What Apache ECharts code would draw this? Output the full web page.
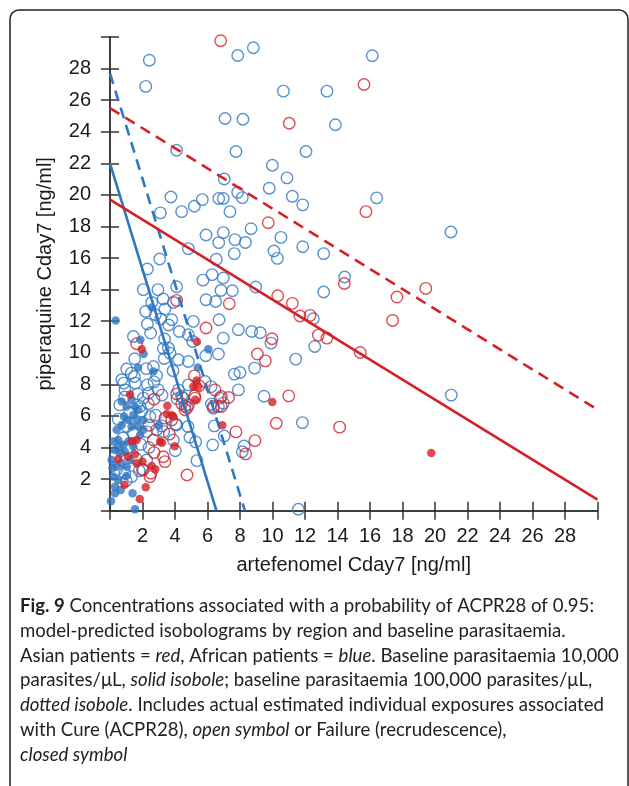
<!DOCTYPE html>
<html>
<head>
<meta charset="utf-8">
<script src="https://cdn.jsdelivr.net/npm/echarts@6/dist/echarts.min.js"></script>
<style>html,body{margin:0;padding:0;background:#fff;}#c{width:629px;height:786px;}</style>
</head>
<body>
<div id="c"></div>
<script>
// ---- data (artefenomel Cday7, piperaquine Cday7) ----
const xTicks = [2,4,6,8,10,12,14,16,18,20,22,24,26,28];
const yTicks = [2,4,6,8,10,12,14,16,18,20,22,24,26,28];

const africanCure = [
[2.42,28.53],[2.2,26.87],[4.1,22.83],[7.86,28.83],[8.82,29.32],[10.67,26.57],[7.08,24.84],[8.18,24.79],[7.75,22.75],[12.06,22.75],[9.99,21.88],[10.89,21.08],[7.03,21.01],[9.8,20.42],[11.22,19.91],[11.86,19.37],[7.86,20.16],[8.14,19.83],[6.69,19.77],[6.97,19.77],[5.68,19.7],[5.19,19.28],[3.75,19.87],[4.41,18.94],[3.1,18.86],[7.38,18.94],[8.68,17.86],[10.52,17.31],[5.91,17.46],[6.97,17.61],[6.69,16.98],[7.69,17.17],[8.33,16.99],[4.82,16.6],[11.86,16.72],[10.09,16.45],[10.3,15.98],[6.54,15.92],[7.65,16.28],[3.06,15.94],[2.3,15.31],
[16.14,28.81],[13.35,26.57],[13.87,24.44],[16.41,19.81],[20.98,17.65],[13.15,16.28],[14.44,14.8],[13.15,13.85],[12.51,12.16],[12.6,10.4],[11.43,9.6],[21.0,7.32],[11.84,5.58],[11.59,0.09],
[8.97,14.17],[8.72,11.35],[9.25,11.27],[9.91,10.61],[8.9,9.03],[9.48,7.25],
[5.72,14.6],[6.28,14.95],[6.97,14.74],[4.1,14.18],[2.05,14.0],[2.95,14.0],[6.83,13.95],[7.53,13.93],
[3.28,13.41],[2.57,13.19],[3.9,13.19],[5.91,13.36],[6.5,13.25],[2.2,12.62],[3.38,12.77],[2.79,12.41],[2.3,11.82],[3.12,12.14],[3.8,12.09],[3.61,11.76],[2.5,11.25],[4.27,11.35],[4.82,11.14],[5.13,11.99],[6.71,12.09],[7.9,11.46],[6.97,10.93],[5.09,10.72],[3.36,10.87],[1.44,11.03],[3.28,10.27],[3.59,10.3],[3.69,9.98],[3.34,9.64],[4.21,9.56],[4.82,9.45],[5.89,9.81],[6.67,9.92],[1.52,9.62],[2.24,9.0],[1.03,8.97],[2.67,9.13],[3.88,8.86],[2.87,8.56],[1.31,8.71],[0.72,8.29],[0.84,8.08],[1.56,8.08],[0.92,7.65],[2.3,7.97],[2.71,8.16],[2.97,7.65],[2.36,7.44],[3.2,7.32],[4.12,7.1],[4.49,7.13],[4.84,6.72],[4.62,6.6],[2.36,6.77],[1.85,6.6],[1.95,6.28],[2.46,5.96],[2.81,6.05],[3.18,5.37],[2.87,5.12],[2.26,5.01],[4.04,5.48],[4.8,5.33],[3.3,5.01],[3.9,4.48],[4.02,3.8],[4.92,4.65],[5.27,4.36],[5.35,3.17],[4.1,5.43],
[7.65,8.65],[8.0,8.75],[7.9,7.65],[5.85,8.18],[6.22,7.86],[4.82,7.97],[4.21,7.65],[4.41,7.23],[6.77,7.13],[6.24,6.75],[6.36,6.49],[6.67,6.6],[6.97,6.81],[6.42,5.37],[6.32,4.17],[7.03,4.73],[8.14,3.73],[8.25,4.1],
[0.31,3.42],[1.03,5.33],[1.44,4.91],[0.92,2.37],[1.33,2.16],[2.05,2.58],[2.26,3.21],[1.8,2.52],[2.05,7.13],[0.6,6.7],[1.2,6.2],[0.5,5.8],[1.1,4.0],[1.6,3.3],[0.8,4.6],[1.9,4.2],[2.4,4.0],[0.4,2.6],[1.0,1.9],[1.5,8.5],[1.7,7.4],[0.9,7.2]
];

const africanFailure = [
[0.35,12.05],[2.57,12.87],[1.87,10.83],[2.07,9.92],[6.05,10.23],[1.72,9.07],[2.67,8.81],[5.4,9.07],[1.39,1.1],[1.54,0.09],[0.06,0.6],
[0.72,6.91],[1.03,6.6],[1.33,7.02],[1.54,6.6],[1.44,6.07],[1.74,6.39],[0.86,5.96],[1.13,5.75],[0.72,5.43],[0.41,5.12],[1.33,5.33],[1.74,5.33],[2.05,5.12],[0.51,4.48],[0.82,4.17],[1.13,4.38],[1.44,4.06],[0.31,3.85],[0.62,3.64],[0.92,3.74],[0.41,2.79],[0.72,3.0],[0.2,2.16],[0.51,1.95],[0.31,1.52],[0.66,1.31],[0.1,3.21],[1.64,5.75],[2.05,5.75],[1.85,4.8],[0.31,1.1],[1.03,2.79],[0.2,4.38],[1.23,3.21],[3.0,5.4],[1.0,2.2],[0.15,2.7],[0.5,4.0]
];

const asianCure = [
[6.81,29.76],[11.03,24.54],[9.74,18.24],[15.63,26.99],[15.75,18.94],[14.42,14.39],[19.43,14.08],[17.66,13.53],[17.39,12.05],[12.31,12.37],[11.69,12.33],[12.82,11.12],[13.35,10.93],[15.4,10.02],[14.13,5.29],[10.32,13.61],[11.22,13.13],[9.97,10.89],[9.07,9.92],[9.56,9.49],[11.0,7.27],[10.23,5.54],[8.92,4.44],[7.34,13.11],[4.1,13.32],[5.91,11.57],[1.64,10.57],[4.1,7.4],[4.41,6.77],[4.76,6.53],[4.62,6.39],[2.71,7.06],[3.38,5.86],[3.8,5.75],[2.4,5.41],[3.65,4.85],[4.74,2.26],[2.67,4.48],[2.71,3.68],[3.28,3.42],[3.38,3.11],[2.52,2.37],[2.46,2.16],[6.36,6.6],[6.85,6.6],[6.46,7.65],[6.85,7.23],[7.3,7.17],[5.19,8.54],[5.48,7.91],[5.21,7.27],[7.75,4.99],[8.35,3.6],[5.23,7.13],[2.0,2.6]
];

const asianFailure = [
[19.77,3.66],[9.99,6.89],[5.35,10.7],[1.95,10.23],[1.23,7.36],[3.53,6.64],[3.49,6.13],[3.8,6.05],[3.9,5.96],[3.98,4.08],[3.08,4.38],[3.2,4.31],[2.57,2.83],[2.79,2.62],[1.99,3.11],[1.64,3.0],[1.54,3.58],[1.09,3.42],[0.51,3.28],[1.64,4.48],[2.2,1.48],[1.83,0.74],[0.9,1.65],[5.13,7.86],[5.33,8.24],[5.25,7.02],[6.91,5.41],[5.44,7.86],[1.35,4.4]
];

// isoboles: endpoints [x, y]
const africanSolid  = [[0,22.0],[6.55,0]];
const africanDotted = [[0,27.7],[8.3,0]];
const asianSolid    = [[0,19.7],[30,0.7]];
const asianDotted   = [[0,25.5],[30,6.4]];

const captionLines = [
  '{b|Fig. 9} Concentrations associated with a probability of ACPR28 of 0.95:',
  'model-predicted isobolograms by region and baseline parasitaemia.',
  'Asian patients = {i|red}, African patients = {i|blue}. Baseline parasitaemia 10,000',
  'parasites/\u03bcL, {i|solid isobole}; baseline parasitaemia 100,000 parasites/\u03bcL,',
  '{i|dotted isobole}. Includes actual estimated individual exposures associated',
  'with Cure (ACPR28), {i|open symbol} or Failure (recrudescence),',
  '{i|closed symbol}'
];

// ---- chart ----
const RED = '#d42126';
const BLUE = '#2f77c0';
const AX = '#333';
const chart = echarts.init(document.getElementById('c'), null, {renderer:'canvas'});

const tickSet = new Set(xTicks);
const ytickSet = new Set(yTicks);
const axisCommon = {
  type: 'value', min: 0, max: 30, interval: 2,
  axisLine: {show: true, lineStyle: {color: AX, width: 1.5}},
  axisTick: {show: true, length: 9, inside: false, lineStyle: {color: AX, width: 1.5}},
  splitLine: {show: false}
};
const labelFont = {fontFamily: 'Liberation Sans', fontSize: 20, color: '#1a1a1a'};

const openSym = (color) => ({
  type: 'scatter', symbol: 'circle', symbolSize: 11.5,
  itemStyle: {color: 'rgba(255,255,255,0)', borderColor: color, borderWidth: 1.4},
  z: 2
});
const filledSym = (color) => ({
  type: 'scatter', symbol: 'circle', symbolSize: 8.5,
  itemStyle: {color: color, borderWidth: 0},
  z: 3
});
const lineSer = (data, color, dashed) => ({
  type: 'line', data: data, showSymbol: false, symbol: 'none',
  lineStyle: {color: color, width: 2.6, type: dashed ? [11, 7] : 'solid'},
  z: 4, clip: true
});

const CAP = 18.6;
const graphics = [{
  type: 'rect', silent: true,
  shape: {x: 10, y: 10, width: 618, height: 790, r: 9},
  style: {fill: null, stroke: '#222', lineWidth: 1.5},
  z: -1
}];
captionLines.forEach((t, i) => {
  graphics.push({
    type: 'text', x: 20, y: 606 + i * 24.8,
    style: {
      text: t, fill: '#222',
      font: CAP + 'px Lato',
      verticalAlign: 'middle',
      rich: {
        b: {fontWeight: 'bold', fontFamily: 'Lato', fontSize: CAP, fill: '#222'},
        i: {fontStyle: 'italic', fontFamily: 'Lato', fontSize: CAP, fill: '#222'}
      }
    }
  });
});

chart.setOption({
  animation: false,
  backgroundColor: '#fff',
  grid: {left: 110, top: 37, width: 487.5, height: 473.7, containLabel: false},
  xAxis: [
    Object.assign({}, axisCommon, {
      position: 'bottom',
      axisLabel: Object.assign({margin: 16, formatter: v => tickSet.has(v) ? String(v) : ''}, labelFont),
      name: 'artefenomel Cday7 [ng/ml]', nameLocation: 'middle', nameGap: 45,
      nameTextStyle: {fontFamily: 'Liberation Sans', fontSize: 20, color: '#1a1a1a'}
    }),
    Object.assign({}, axisCommon, {position: 'top', axisLabel: {show: false}})
  ],
  yAxis: [
    Object.assign({}, axisCommon, {
      position: 'left',
      axisLabel: Object.assign({margin: 19, formatter: v => ytickSet.has(v) ? String(v) : ''}, labelFont),
      name: 'piperaquine Cday7 [ng/ml]', nameLocation: 'middle', nameGap: 55,
      nameTextStyle: {fontFamily: 'Liberation Sans', fontSize: 20, color: '#1a1a1a'}
    }),
    Object.assign({}, axisCommon, {position: 'right', axisLabel: {show: false}})
  ],
  series: [
    Object.assign(openSym(BLUE), {name: 'African cure', data: africanCure}),
    Object.assign(openSym(RED), {name: 'Asian cure', data: asianCure}),
    Object.assign(filledSym(BLUE), {name: 'African failure', data: africanFailure}),
    Object.assign(filledSym(RED), {name: 'Asian failure', data: asianFailure}),
    lineSer(africanSolid, BLUE, false),
    lineSer(africanDotted, BLUE, true),
    lineSer(asianSolid, RED, false),
    lineSer(asianDotted, RED, true)
  ],
  graphic: graphics
});
</script>
</body>
</html>
